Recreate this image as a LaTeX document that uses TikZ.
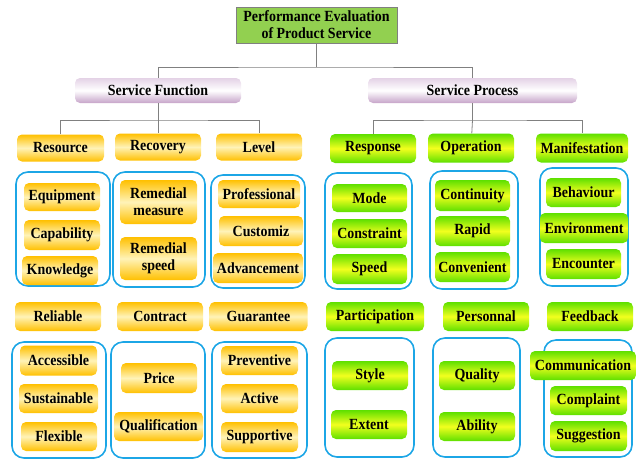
\documentclass[tikz,border=0pt]{standalone}
\usepackage{fontspec}
\setmainfont[FakeStretch=0.9]{Liberation Serif}
\definecolor{oEdge}{HTML}{FFC000}
\definecolor{oMid}{HTML}{FFF3B8}
\definecolor{gEdge}{HTML}{5EE000}
\definecolor{gMid}{HTML}{F2FF1E}
\definecolor{pTop}{HTML}{E4D2E6}
\definecolor{pBot}{HTML}{C6A4C9}
\definecolor{grpBlue}{HTML}{1CA6E6}

\begin{document}
\begin{tikzpicture}[x=1pt, y=-1pt,
  every node/.style={font=\fontsize{15.5}{17}\selectfont\bfseries, inner sep=0pt, align=center},
  sz/.style 2 args={minimum width=#1pt, minimum height=#2pt},
  titlebox/.style={draw=gray, fill={rgb,255:red,146;green,208;blue,80}},
  mainbox/.style={rounded corners=5pt, top color=pTop, bottom color=pBot, middle color=white},
  obox/.style={rounded corners=5pt, top color=oEdge, bottom color=oEdge, middle color=oMid},
  gbox/.style={rounded corners=5pt, top color=gEdge, bottom color=gEdge, middle color=gMid},
  grpbox/.style={draw=grpBlue, line width=1.6pt, rounded corners=12pt},
  conn/.style={draw=gray, line width=0.8pt}]
  \useasboundingbox (0,0) rectangle (636,459);

  % top levels
  \node[titlebox, sz={161}{36}] (title) at (316.5,25) {Performance Evaluation\\of Product Service};
  \node[mainbox, sz={166}{25}] (sf) at (158,90.5) {Service Function};
  \node[mainbox, sz={209}{25}] (sp) at (472.5,90.5) {Service Process};

  % first row of aspects
  \node[obox, sz={87}{27}] (res) at (60.5,148) {Resource};
  \node[obox, sz={86}{27}] (rec) at (158,147) {Recovery};
  \node[obox, sz={86}{27}] (lev) at (259,147) {Level};
  \node[gbox, sz={86}{29}] (resp) at (373,148.5) {Response};
  \node[gbox, sz={86}{29}] (oper) at (471,148) {Operation};
  \node[gbox, sz={92}{29}] (mani) at (582,148) {Manifestation};

  % groups, first row
  \node[grpbox, sz={94}{114}] (resG) at (63,229) {};
  \node[grpbox, sz={92}{115}] (recG) at (159,229.5) {};
  \node[grpbox, sz={94}{113}] (levG) at (258,231.5) {};
  \node[grpbox, sz={87}{116}] (respG) at (368.5,231) {};
  \node[grpbox, sz={88}{118}] (operG) at (474,230) {};
  \node[grpbox, sz={88}{118}] (maniG) at (584,227) {};

  \node[obox, sz={76}{28}] (equip) at (62,197) {Equipment};
  \node[obox, sz={76}{30}] (capab) at (62,235) {Capability};
  \node[obox, sz={76}{29}] (know) at (60,270.5) {Knowledge};
  \node[obox, sz={77}{44}] (remm) at (158.5,202) {Remedial\\measure};
  \node[obox, sz={77}{43}] (rems) at (158.5,258.5) {Remedial\\speed};
  \node[obox, sz={82}{28}] (prof) at (259,194) {Professional};
  \node[obox, sz={84}{30}] (cust) at (261,231) {Customiz};
  \node[obox, sz={90}{30}] (adv) at (258,268) {Advancement};
  \node[gbox, sz={75}{28}] (mode) at (369.5,198) {Mode};
  \node[gbox, sz={75}{29}] (cons) at (369.5,233.5) {Constraint};
  \node[gbox, sz={75}{30}] (speed) at (369.5,269) {Speed};
  \node[gbox, sz={75}{31}] (cont) at (472.5,195.5) {Continuity};
  \node[gbox, sz={75}{30}] (rapid) at (472.5,231) {Rapid};
  \node[gbox, sz={75}{30}] (conv) at (472.5,267) {Convenient};
  \node[gbox, sz={75}{29}] (beha) at (583.5,192.5) {Behaviour};
  \node[gbox, sz={88}{30}] (envi) at (584,228) {Environment};
  \node[gbox, sz={75}{30}] (enco) at (583.5,264) {Encounter};

  % second row of aspects
  \node[obox, sz={86}{29}] (reli) at (58,316.5) {Reliable};
  \node[obox, sz={86}{29}] (contr) at (160,316.5) {Contract};
  \node[obox, sz={98}{29}] (guar) at (258.5,316.5) {Guarantee};
  \node[gbox, sz={98}{29}] (part) at (375,316.5) {Participation};
  \node[gbox, sz={86}{29}] (pers) at (486,316.5) {Personnal};
  \node[gbox, sz={86}{29}] (feed) at (590,316.5) {Feedback};

  % groups, second row
  \node[grpbox, sz={94}{116}] (reliG) at (59,400) {};
  \node[grpbox, sz={94}{116}] (contrG) at (158,400) {};
  \node[grpbox, sz={95}{116}] (guarG) at (259.5,400) {};
  \node[grpbox, sz={89}{119}] (partG) at (369.5,397.5) {};
  \node[grpbox, sz={87}{119}] (persG) at (476.5,397.5) {};
  \node[grpbox, sz={88}{117}] (feedG) at (588,398.5) {};

  \node[obox, sz={77}{30}] (acce) at (58.5,360.5) {Accessible};
  \node[obox, sz={79}{29}] (sust) at (58.5,398.5) {Sustainable};
  \node[obox, sz={76}{29}] (flex) at (59,436.5) {Flexible};
  \node[obox, sz={76}{30}] (price) at (159,378) {Price};
  \node[obox, sz={89}{29}] (qual) at (158.5,426.5) {Qualification};
  \node[obox, sz={77}{29}] (prev) at (259.5,360.5) {Preventive};
  \node[obox, sz={77}{29}] (act) at (259.5,398.5) {Active};
  \node[obox, sz={77}{30}] (supp) at (259.5,437) {Supportive};
  \node[gbox, sz={76}{29}] (style) at (370,375.5) {Style};
  \node[gbox, sz={76}{29}] (ext) at (369,424.5) {Extent};
  \node[gbox, sz={76}{29}] (qlty) at (477,375.5) {Quality};
  \node[gbox, sz={76}{29}] (abil) at (477,426.5) {Ability};
  \node[gbox, sz={106}{29}] (comm) at (583,365.5) {Communication};
  \node[gbox, sz={77}{29}] (compl) at (588.5,400.5) {Complaint};
  \node[gbox, sz={77}{30}] (sugg) at (588.5,436) {Suggestion};

  % connectors
  \coordinate (j0) at (title.south |- 0,67);
  \coordinate (j1) at (sf.south |- 0,120);
  \coordinate (j2) at (sp.south |- 0,120);
  \path[conn]
  (title) edge (j0)
  (sf) edge (j1)
  (j1) edge (rec)
  (sp) edge (j2)
  (j2) edge (oper)
  ;
  \draw[conn] (sf) |- (j0) -| (sp);
  \draw[conn] (res) |- (j1) -| (lev);
  \draw[conn] (resp) |- (j2) -| (mani);
\end{tikzpicture}
\end{document}
